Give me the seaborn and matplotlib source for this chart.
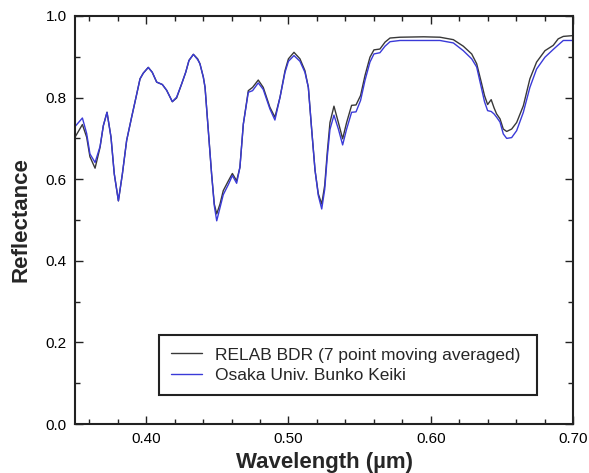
import numpy as np
import pandas as pd
import matplotlib
matplotlib.use("Agg")
import matplotlib.pyplot as plt
import seaborn as sns
from matplotlib.ticker import MultipleLocator, FormatStrFormatter

wavelength = [0.3500, 0.3552, 0.3582, 0.3605, 0.3641, 0.3676, 0.3699, 0.3725, 0.3753, 0.3776,
              0.3805, 0.3833, 0.3863, 0.3898, 0.3929, 0.3957, 0.3980, 0.4015, 0.4043, 0.4074,
              0.4114, 0.4144, 0.4184, 0.4214, 0.4250, 0.4278, 0.4301, 0.4332, 0.4362, 0.4378,
              0.4402, 0.4414, 0.4437, 0.4460, 0.4479, 0.4496, 0.4519, 0.4542, 0.4578, 0.4606,
              0.4636, 0.4659, 0.4683, 0.4718, 0.4748, 0.4788, 0.4823, 0.4870, 0.4905, 0.4941,
              0.4976, 0.5000, 0.5039, 0.5081, 0.5116, 0.5140, 0.5164, 0.5187, 0.5210, 0.5234,
              0.5255, 0.5273, 0.5292, 0.5320, 0.5351, 0.5381, 0.5409, 0.5444, 0.5475, 0.5507,
              0.5538, 0.5573, 0.5601, 0.5643, 0.5679, 0.5714, 0.5784, 0.5950, 0.6065, 0.6159,
              0.6229, 0.6288, 0.6323, 0.6358, 0.6378, 0.6400, 0.6425, 0.6445, 0.6463, 0.6487,
              0.6510, 0.6534, 0.6569, 0.6604, 0.6651, 0.6697, 0.6744, 0.6803, 0.6861, 0.6896,
              0.6932, 0.7000]

relab_bdr = [0.703, 0.734, 0.703, 0.655, 0.627, 0.678, 0.731, 0.764, 0.703, 0.613,
             0.547, 0.613, 0.695, 0.752, 0.801, 0.846, 0.860, 0.874, 0.862, 0.838,
             0.832, 0.818, 0.790, 0.799, 0.834, 0.862, 0.891, 0.906, 0.895, 0.883,
             0.850, 0.825, 0.719, 0.613, 0.539, 0.515, 0.539, 0.572, 0.596, 0.614,
             0.596, 0.629, 0.735, 0.817, 0.825, 0.843, 0.825, 0.776, 0.752, 0.801,
             0.866, 0.895, 0.911, 0.895, 0.866, 0.825, 0.719, 0.622, 0.564, 0.539,
             0.585, 0.666, 0.739, 0.779, 0.739, 0.699, 0.739, 0.781, 0.782, 0.805,
             0.854, 0.899, 0.917, 0.919, 0.936, 0.946, 0.948, 0.949, 0.948, 0.942,
             0.926, 0.907, 0.883, 0.834, 0.805, 0.783, 0.795, 0.775, 0.760, 0.748,
             0.723, 0.717, 0.723, 0.739, 0.780, 0.846, 0.887, 0.915, 0.928, 0.944,
             0.950, 0.952]

osaka = [0.729, 0.750, 0.712, 0.662, 0.641, 0.680, 0.731, 0.764, 0.703, 0.613,
         0.547, 0.613, 0.695, 0.752, 0.801, 0.846, 0.860, 0.874, 0.862, 0.838,
         0.832, 0.818, 0.790, 0.801, 0.834, 0.862, 0.891, 0.906, 0.893, 0.883,
         0.850, 0.825, 0.719, 0.613, 0.535, 0.498, 0.530, 0.562, 0.587, 0.609,
         0.590, 0.629, 0.735, 0.813, 0.817, 0.836, 0.820, 0.772, 0.745, 0.801,
         0.862, 0.889, 0.903, 0.889, 0.862, 0.825, 0.719, 0.622, 0.560, 0.527,
         0.575, 0.655, 0.722, 0.757, 0.723, 0.684, 0.723, 0.764, 0.765, 0.793,
         0.842, 0.887, 0.907, 0.910, 0.926, 0.937, 0.940, 0.940, 0.940, 0.934,
         0.915, 0.895, 0.875, 0.821, 0.790, 0.768, 0.766, 0.760, 0.752, 0.740,
         0.711, 0.700, 0.702, 0.719, 0.764, 0.825, 0.870, 0.899, 0.918, 0.929,
         0.940, 0.940]

series_names = ["RELAB BDR (7 point moving averaged)", "Osaka Univ. Bunko Keiki"]

df = pd.concat([
    pd.DataFrame({"wl": wavelength, "R": relab_bdr, "src": series_names[0]}),
    pd.DataFrame({"wl": wavelength, "R": osaka, "src": series_names[1]}),
])

sns.set_theme(style="ticks")
plt.rcParams["font.family"] = ["Liberation Sans", "DejaVu Sans"]

fig = plt.figure(figsize=(5.89, 4.73), dpi=100)
ax = fig.add_axes([75/589, 1-424/473, 498/589, 408/473])

sns.lineplot(data=df, x="wl", y="R", hue="src", hue_order=series_names,
             palette=["#383838", "#3a3ad8"], linewidth=1.0, sort=False,
             estimator=None, ax=ax)

ax.set_xlim(0.35, 0.70)
ax.set_ylim(0.0, 1.0)
ax.xaxis.set_major_locator(MultipleLocator(0.1))
ax.xaxis.set_minor_locator(MultipleLocator(0.02))
ax.yaxis.set_major_locator(MultipleLocator(0.2))
ax.yaxis.set_minor_locator(MultipleLocator(0.1))
ax.xaxis.set_major_formatter(FormatStrFormatter("%.2f"))
ax.yaxis.set_major_formatter(FormatStrFormatter("%.1f"))
ax.tick_params(which="both", direction="in", top=True, right=True,
               colors="#222222", labelcolor="black")
ax.tick_params(which="major", length=6, width=1.0, labelsize=11, pad=6)
ax.tick_params(which="minor", length=3.5, width=1.0)
for s in ax.spines.values():
    s.set_visible(True)
    s.set_linewidth(1.5)
    s.set_color("#222222")

ax.set_xlabel("Wavelength (\u00b5m)", fontsize=16, fontweight="bold", labelpad=4)
ax.set_ylabel("Reflectance", fontsize=16, fontweight="bold", labelpad=10)

leg = ax.legend(loc="lower left", bbox_to_anchor=(0.169, 0.071, 0.759, 0.147),
                mode="expand", frameon=True, fancybox=False, fontsize=12.5,
                handlelength=1.75, handletextpad=0.75, borderpad=0.7,
                labelspacing=0.3, borderaxespad=0)
leg.get_frame().set_edgecolor("#222222")
leg.get_frame().set_linewidth(1.5)
leg.get_frame().set_alpha(1)

fig.savefig("out.png", dpi=100)
